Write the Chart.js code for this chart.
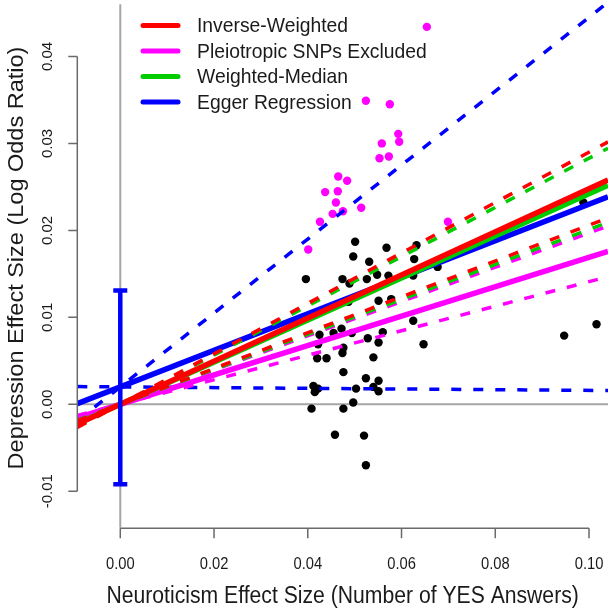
<!DOCTYPE html>
<html>
<head>
<meta charset="utf-8">
<script src="https://cdn.jsdelivr.net/npm/chart.js@4.4.1/dist/chart.umd.min.js"></script>
<style>
  html, body { margin: 0; padding: 0; background: #ffffff; }
  #wrap { width: 615px; height: 612px; }
</style>
</head>
<body>
<div id="wrap"><canvas id="mrChart" width="615" height="612"></canvas></div>
<script>
// Axis ticks
const xTicks = [0, 0.02, 0.04, 0.06, 0.08, 0.10];
const xTickLabels = ['0.00', '0.02', '0.04', '0.06', '0.08', '0.10'];
const yTicks = [-0.01, 0, 0.01, 0.02, 0.03, 0.04];
const yTickLabels = ['-0.01', '0.00', '0.01', '0.02', '0.03', '0.04'];
const xRange = [-0.00917, 0.10405];
const yRange = [-0.01419, 0.04601];
const xTitle = 'Neuroticism Effect Size (Number of YES Answers)';
const yTitle = 'Depression Effect Size (Log Odds Ratio)';

// SNPs kept in the analysis (black)
const snpX = [0.0501, 0.0497, 0.0568, 0.0632, 0.0531, 0.0627, 0.0677, 0.0396, 0.0474, 0.0489,
              0.0526, 0.0548, 0.0572, 0.0625, 0.0487, 0.0551, 0.0578, 0.0625, 0.0425, 0.0455,
              0.0472, 0.0494, 0.0422, 0.0476, 0.0474, 0.0420, 0.0440, 0.0528, 0.0551, 0.0560,
              0.0540, 0.0647, 0.0476, 0.0524, 0.0551, 0.0412, 0.0415, 0.0422, 0.0503, 0.0540,
              0.0551, 0.0408, 0.0476, 0.0497, 0.0458, 0.0520, 0.0524, 0.0947, 0.1016, 0.0988];
const snpY = [0.0187, 0.0170, 0.0180, 0.0183, 0.0164, 0.0167, 0.0158, 0.0144, 0.0144, 0.0139,
              0.0144, 0.0149, 0.0148, 0.0148, 0.0118, 0.0119, 0.0121, 0.0096, 0.0080, 0.0082,
              0.0087, 0.0082, 0.0069, 0.0065, 0.0059, 0.0053, 0.0053, 0.0076, 0.0071, 0.0083,
              0.0054, 0.0069, 0.0037, 0.0030, 0.0027, 0.0021, 0.0014, 0.0018, 0.0018, 0.0020,
              0.0015, -0.0005, -0.0005, 0.0002, -0.0035, -0.0036, -0.0070, 0.0079, 0.0092, 0.0232];

// Pleiotropic SNPs (magenta)
const pleioX = [0.0654, 0.0524, 0.0575, 0.0593, 0.0595, 0.0558, 0.0553, 0.0573, 0.0465, 0.0484,
                0.0437, 0.0464, 0.0460, 0.0453, 0.0475, 0.0514, 0.0426, 0.0401, 0.0699];
const pleioY = [0.0434, 0.0349, 0.0345, 0.0311, 0.0302, 0.0300, 0.0283, 0.0285, 0.0262, 0.0257,
                0.0244, 0.0245, 0.0232, 0.0219, 0.0222, 0.0226, 0.0210, 0.0178, 0.0210];

// Causal estimates: line = intercept + slope * x, dashed lines = CI of slope
const methodNames = ['Inverse-Weighted', 'Pleiotropic SNPs Excluded', 'Weighted-Median', 'Egger Regression'];
const methodColors = ['#ff0000', '#ff00ff', '#00cd00', '#0000ff'];
const intercepts = [0, 0, 0, 0.002];
const slopes = [0.248, 0.169, 0.242, 0.21];
const slopeLower = [0.206, 0.141, 0.201, -0.004];
const slopeUpper = [0.290, 0.197, 0.283, 0.425];
const lineOrder = [1, 3, 2, 4];   // red on top, then green, magenta, blue

// Egger intercept with its confidence interval
const eggerCI = [-0.0092, 0.0131];

const FONT = '"Liberation Sans", Arial, Helvetica, sans-serif';
const SX = 0.92;   // the picture's text is a little narrow

function ablinePoints(a, b) {
    return [
        { x: xRange[0], y: a + b * xRange[0] },
        { x: xRange[1], y: a + b * xRange[1] }
    ];
}

const datasets = [];
methodNames.forEach((name, i) => {
    datasets.push({
        type: 'line',
        label: name,
        data: ablinePoints(intercepts[i], slopes[i]),
        borderColor: methodColors[i],
        borderWidth: 5.5,
        pointRadius: 0,
        showLine: true,
        fill: false,
        order: lineOrder[i]
    });
    [slopeLower[i], slopeUpper[i]].forEach(s => {
        datasets.push({
            type: 'line',
            label: name + ' CI',
            data: ablinePoints(intercepts[i], s),
            borderColor: methodColors[i],
            borderWidth: 3.5,
            borderDash: [10, 12],
            borderCapStyle: 'butt',
            pointRadius: 0,
            showLine: true,
            fill: false,
            order: lineOrder[i]
        });
    });
});

datasets.push({
    type: 'scatter',
    label: 'SNPs',
    data: snpX.map((v, i) => ({ x: v, y: snpY[i] })),
    backgroundColor: '#000000',
    borderWidth: 0,
    pointRadius: 4.2,
    order: 10
});
datasets.push({
    type: 'scatter',
    label: 'Pleiotropic SNPs',
    data: pleioX.map((v, i) => ({ x: v, y: pleioY[i] })),
    backgroundColor: '#ff00ff',
    borderWidth: 0,
    pointRadius: 4.2,
    order: 10
});

// narrow horizontal text
function hText(ctx, text, x, y, size) {
    ctx.save();
    ctx.translate(x, y);
    ctx.scale(SX, 1);
    ctx.font = size + 'px ' + FONT;
    ctx.fillText(text, 0, 0);
    ctx.restore();
}

// vertical text reading bottom to top
function vText(ctx, text, x, y, size) {
    ctx.save();
    ctx.translate(x, y);
    ctx.scale(SX, 1);
    ctx.rotate(-Math.PI / 2);
    ctx.font = size + 'px ' + FONT;
    ctx.fillText(text, 0, 0);
    ctx.restore();
}

// R-style axes, reference lines, error bar and legend
const rStyle = {
    id: 'rStyle',
    beforeDatasetsDraw(chart) {
        const { ctx, chartArea: a, scales: { x, y } } = chart;
        ctx.save();
        ctx.strokeStyle = '#a6a6a6';
        ctx.lineWidth = 2;
        ctx.beginPath();
        const x0 = x.getPixelForValue(0);
        const y0 = y.getPixelForValue(0);
        ctx.moveTo(a.left, y0);
        ctx.lineTo(a.right, y0);
        ctx.moveTo(x0, a.top);
        ctx.lineTo(x0, a.bottom);
        ctx.stroke();
        ctx.restore();
    },
    afterDatasetsDraw(chart) {
        const { ctx, scales: { x, y } } = chart;
        ctx.save();
        // Egger intercept error bar
        const xb = x.getPixelForValue(0);
        const yLo = y.getPixelForValue(eggerCI[0]);
        const yHi = y.getPixelForValue(eggerCI[1]);
        ctx.strokeStyle = '#0000ff';
        ctx.lineWidth = 4.5;
        ctx.lineCap = 'butt';
        ctx.beginPath();
        ctx.moveTo(xb, yLo);
        ctx.lineTo(xb, yHi);
        ctx.moveTo(xb - 7, yLo);
        ctx.lineTo(xb + 7, yLo);
        ctx.moveTo(xb - 7, yHi);
        ctx.lineTo(xb + 7, yHi);
        ctx.stroke();

        // legend
        ctx.textBaseline = 'middle';
        ctx.textAlign = 'left';
        methodNames.forEach((name, i) => {
            const ly = 25.5 + i * 25.5;
            ctx.strokeStyle = methodColors[i];
            ctx.lineWidth = 5;
            ctx.lineCap = 'round';
            ctx.beginPath();
            ctx.moveTo(143, ly);
            ctx.lineTo(178, ly);
            ctx.stroke();
            ctx.fillStyle = '#1a1a1a';
            hText(ctx, name, 197, ly + 1, 21);
        });
        ctx.restore();
    },
    afterDraw(chart) {
        const { ctx, chartArea: a, scales: { x, y } } = chart;
        ctx.save();
        ctx.strokeStyle = '#6a6a6a';
        ctx.lineWidth = 1.5;
        ctx.lineCap = 'butt';
        ctx.fillStyle = '#1a1a1a';
        ctx.textAlign = 'center';
        ctx.textBaseline = 'middle';

        // x axis
        const yb = a.bottom + 0.5;
        ctx.beginPath();
        ctx.moveTo(x.getPixelForValue(xTicks[0]), yb);
        ctx.lineTo(x.getPixelForValue(xTicks[xTicks.length - 1]), yb);
        xTicks.forEach(t => {
            const px = x.getPixelForValue(t);
            ctx.moveTo(px, yb);
            ctx.lineTo(px, yb + 10);
        });
        ctx.stroke();
        xTicks.forEach((t, i) => {
            hText(ctx, xTickLabels[i], x.getPixelForValue(t), yb + 36, 16);
        });
        hText(ctx, xTitle, (a.left + a.right) / 2, 597, 23);

        // y axis
        const xl = a.left;
        ctx.beginPath();
        ctx.moveTo(xl, y.getPixelForValue(yTicks[0]));
        ctx.lineTo(xl, y.getPixelForValue(yTicks[yTicks.length - 1]));
        yTicks.forEach(t => {
            const py = y.getPixelForValue(t);
            ctx.moveTo(xl, py);
            ctx.lineTo(xl - 9, py);
        });
        ctx.stroke();
        yTicks.forEach((t, i) => {
            vText(ctx, yTickLabels[i], xl - 29.5, y.getPixelForValue(t), 15);
        });
        vText(ctx, yTitle, 17, 258, 23.5);
        ctx.restore();
    }
};

new Chart(document.getElementById('mrChart'), {
    type: 'scatter',
    data: { datasets: datasets },
    options: {
        responsive: false,
        animation: false,
        devicePixelRatio: 1,
        layout: { padding: { left: 77.3, right: 7, top: 0, bottom: 84.3 } },
        scales: {
            x: { type: 'linear', min: xRange[0], max: xRange[1], display: false },
            y: { type: 'linear', min: yRange[0], max: yRange[1], display: false }
        },
        plugins: {
            legend: { display: false },
            tooltip: { enabled: false }
        }
    },
    plugins: [rStyle]
});
</script>
</body>
</html>
